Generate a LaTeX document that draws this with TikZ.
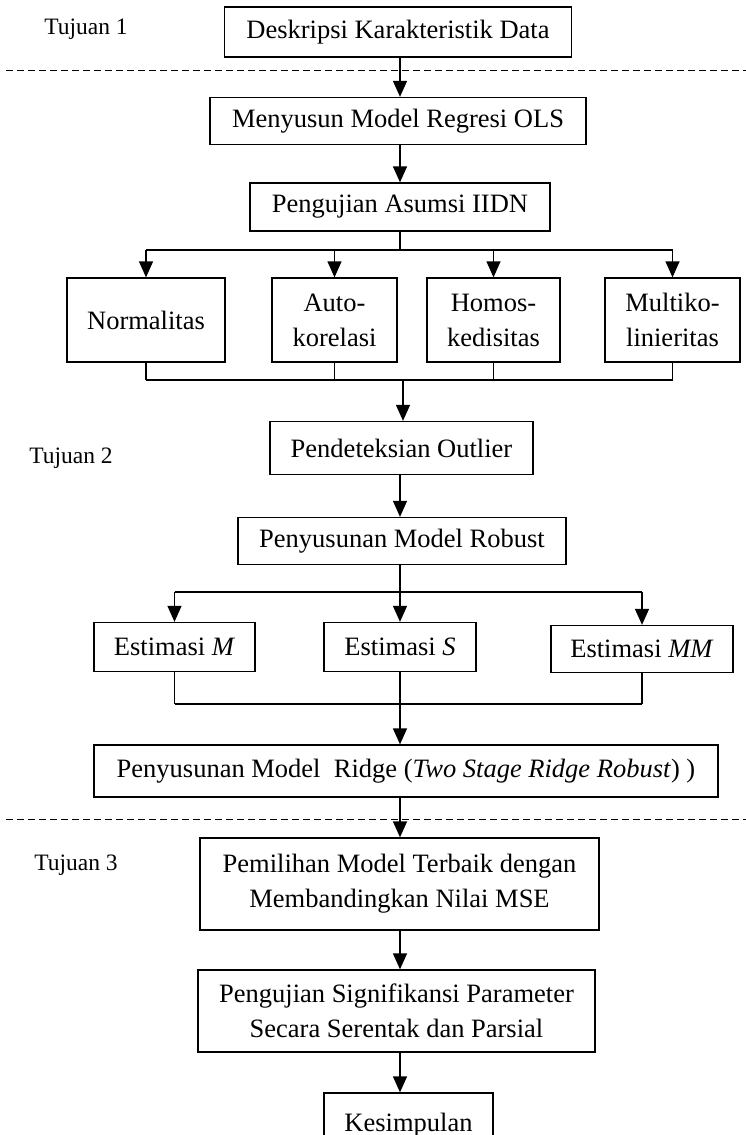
\documentclass[tikz,border=0pt]{standalone}
\usepackage{fontspec}
\setmainfont{Liberation Serif}
\usetikzlibrary{arrows.meta}
\newcommand{\boxfont}{\fontsize{26.5pt}{35pt}\selectfont}
\newcommand{\labelfont}{\fontsize{23.5pt}{28pt}\selectfont}

\begin{document}
\begin{tikzpicture}[x=1pt,y=-1pt,
    >={Triangle[width=14pt,length=16pt]},
    line width=1.3pt,
    blok/.style={draw,inner sep=0pt,align=center,font=\boxfont},
    ukuran/.style 2 args={minimum width=#1pt,minimum height=#2pt},
    tujuan/.style={font=\labelfont},
    garis/.style={dash pattern=on 7pt off 4pt,line width=1pt}]
    \useasboundingbox (0,0) rectangle (746,1135);

    %labels
    \node[tujuan] (t1) at (86,29) {Tujuan 1};
    \node[tujuan] (t2) at (71,458) {Tujuan 2};
    \node[tujuan] (t3) at (76,865) {Tujuan 3};

    %separators
    \draw[garis] (6,70) -- (746,70);
    \draw[garis] (6,819) -- (746,819);

    %blocks
    \node[blok,ukuran={347}{50}] (desk) at (398,32) {Deskripsi Karakteristik Data};
    \node[blok,ukuran={376}{47}] (ols) at (398,121) {Menyusun Model Regresi OLS};
    \node[blok,ukuran={300}{48}] (iidn) at (400,207) {Pengujian Asumsi IIDN};
    \node[blok,ukuran={158}{84}] (norm) at (146,320) {Normalitas};
    \node[blok,ukuran={125}{84}] (auto) at (334.5,320) {Auto-\\korelasi};
    \node[blok,ukuran={133}{84}] (homo) at (493.5,320) {Homos-\\kedisitas};
    \node[blok,ukuran={135}{84}] (multi) at (672.5,320) {Multiko-\\linieritas};
    \node[blok,ukuran={263}{53}] (outlier) at (401.5,448) {Pendeteksian Outlier};
    \node[blok,ukuran={328}{47}] (robust) at (402,541) {Penyusunan Model Robust};
    \node[blok,ukuran={161}{49}] (estm) at (174.5,647) {Estimasi \textit{M}};
    \node[blok,ukuran={152}{49}] (ests) at (400,647) {Estimasi \textit{S}};
    \node[blok,ukuran={182}{47}] (estmm) at (642,649) {Estimasi \textit{MM}};
    \node[blok,ukuran={624}{52}] (ridge) at (406,771) {Penyusunan Model\ \ Ridge (\textit{Two Stage Ridge Robust}) )};
    \node[blok,ukuran={399}{92}] (pilih) at (399.5,884) {Pemilihan Model Terbaik dengan\\Membandingkan Nilai MSE};
    \node[blok,ukuran={397}{82}] (signif) at (396.5,1011) {Pengujian Signifikansi Parameter\\Secara Serentak dan Parsial};
    \node[blok,ukuran={169}{64}] (kesim) at (408.5,1125) {Kesimpulan};

    %branch points
    \coordinate (cab1) at (400,250);
    \coordinate (gab1) at (403,380);
    \coordinate (cab2) at (400,592);
    \coordinate (gab2) at (400,704);

    %arrows
    \draw[->] (desk.south -| 400,0) -- (400,0 |- ols.north);
    \draw[->] (ols.south -| 400,0) -- (400,0 |- iidn.north);
    \draw (iidn.south -| cab1) -- (cab1);
    \draw (norm.north |- cab1) -- (multi.north |- cab1);
    \foreach \n in {norm,auto,homo,multi}
        \draw[->] (\n.north |- cab1) -- (\n.north);
    \foreach \n in {norm,auto,homo,multi}
        \draw (\n.south) -- (\n.south |- gab1);
    \draw (norm.south |- gab1) -- (multi.south |- gab1);
    \draw[->] (gab1) -- (gab1 |- outlier.north);
    \draw[->] (outlier.south -| 400,0) -- (400,0 |- robust.north);
    \draw (robust.south -| cab2) -- (cab2);
    \draw (estm.north |- cab2) -- (estmm.north |- cab2);
    \foreach \n in {estm,ests,estmm}
        \draw[->] (\n.north |- cab2) -- (\n.north);
    \foreach \n in {estm,ests,estmm}
        \draw (\n.south) -- (\n.south |- gab2);
    \draw (estm.south |- gab2) -- (estmm.south |- gab2);
    \draw[->] (gab2) -- (gab2 |- ridge.north);
    \draw[->] (ridge.south -| 400,0) -- (400,0 |- pilih.north);
    \draw[->] (pilih.south -| 400,0) -- (400,0 |- signif.north);
    \draw[->] (signif.south -| 400,0) -- (400,0 |- kesim.north);
\end{tikzpicture}
\end{document}
